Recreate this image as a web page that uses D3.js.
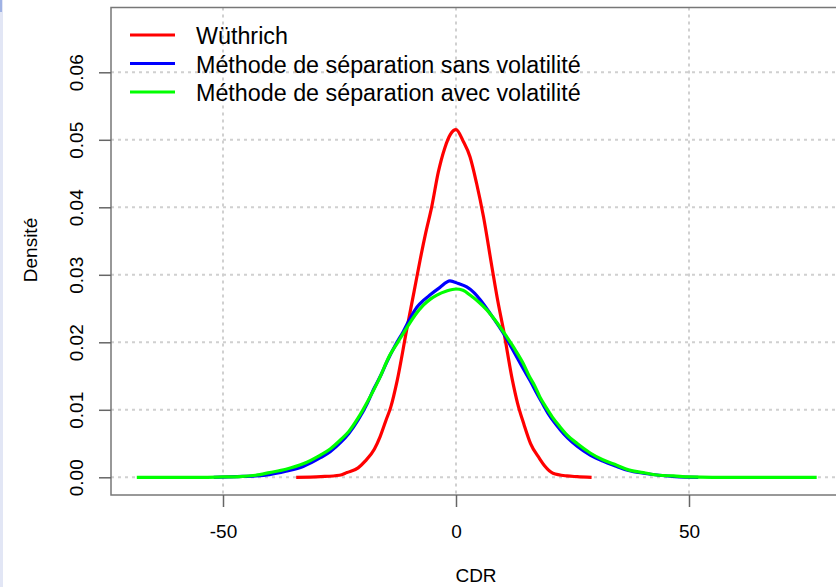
<!DOCTYPE html>
<html>
<head>
<meta charset="utf-8">
<script src="https://cdn.jsdelivr.net/npm/d3@7/dist/d3.min.js"></script>
<style>
  body { margin: 0; background: #fff; }
  svg { display: block; font-family: "Liberation Sans", Arial, sans-serif; }
</style>
</head>
<body>
<svg id="chart" width="836" height="587"></svg>
<script>
// --- data (CDR, density) ---
const wuthrichX = [-34.3, -29, -25, -23.4, -21, -19.5, -17.5, -16.3, -15, -14, -12.6, -10.6, -9, -7.7, -6.5, -5.2, -3.8, -2.4, -1.2, 0, 1.6, 3, 4.4, 5.9, 7.7, 9, 10.2, 12.1, 13.2, 14.6, 16, 17.9, 19, 20.8, 23.8, 26, 29.1]
const wuthrichY = [0, 0.0001, 0.0003, 0.0007, 0.0014, 0.0024, 0.0042, 0.006, 0.0085, 0.0104, 0.0144, 0.0218, 0.0275, 0.0322, 0.0362, 0.0401, 0.0452, 0.0488, 0.0508, 0.0515, 0.0497, 0.0475, 0.0436, 0.0386, 0.0312, 0.026, 0.0218, 0.0144, 0.011, 0.0078, 0.005, 0.0028, 0.0017, 0.0006, 0.0002, 0.0001, 0]

const sansVolX = [-52, -47, -43, -40, -36.5, -32.8, -29.1, -27, -24.7, -23, -21, -19, -17.7, -16, -14.9, -13, -11.3, -9.8, -8.4, -7, -5.6, -3.5, -1.3, 0.5, 2.3, 3.8, 5.2, 7.5, 10.2, 12.5, 14.5, 16, 17.3, 18.5, 20, 22.3, 24, 26, 28.8, 31.5, 34.5, 37, 40.2, 43.6, 47, 52]
const sansVolY = [0, 0.0001, 0.0002, 0.0004, 0.0009, 0.0016, 0.0029, 0.0038, 0.0052, 0.0065, 0.0085, 0.011, 0.013, 0.0153, 0.017, 0.0196, 0.0216, 0.0236, 0.0252, 0.0262, 0.027, 0.0281, 0.0291, 0.0287, 0.0282, 0.0274, 0.0263, 0.0241, 0.0213, 0.0185, 0.016, 0.0142, 0.0125, 0.011, 0.0092, 0.0071, 0.0058, 0.0046, 0.0033, 0.0024, 0.0016, 0.001, 0.0006, 0.0003, 0.0001, 0]

const avecVolX = [-68.5, -55, -50, -46.4, -43, -40, -36.5, -32.8, -29.1, -27, -24.7, -23, -21, -19, -16.6, -14.2, -12.5, -10.6, -8.8, -7, -5.5, -4.1, -2, 0, 1.5, 3, 4.8, 6.6, 8.8, 10.9, 12.7, 14.4, 15.7, 17, 18, 19.3, 20.6, 22.3, 23.8, 26, 28.8, 31.5, 34.5, 37, 40.2, 43.6, 46.7, 50, 55, 77.4]
const avecVolY = [0, 0, 0.00005, 0.0001, 0.0003, 0.0007, 0.0012, 0.002, 0.0033, 0.0042, 0.0056, 0.0068, 0.0088, 0.0112, 0.0144, 0.0181, 0.02, 0.0221, 0.024, 0.0255, 0.0264, 0.027, 0.0276, 0.0279, 0.0277, 0.027, 0.026, 0.0248, 0.0229, 0.0208, 0.0189, 0.0169, 0.015, 0.0134, 0.0119, 0.0104, 0.009, 0.0075, 0.0063, 0.005, 0.0036, 0.0026, 0.0018, 0.0011, 0.0007, 0.0003, 0.0002, 0.00005, 0, 0]

const legendLabels = ["Wüthrich", "Méthode de séparation sans volatilité", "Méthode de séparation avec volatilité"]
const seriesColors = ["#ff0000", "#0000ff", "#00ff00"]
const xTicks = [-50, 0, 50]
const yTicks = [0, 0.01, 0.02, 0.03, 0.04, 0.05, 0.06]

const series = [
  {name: legendLabels[0], xs: wuthrichX, ys: wuthrichY, color: seriesColors[0]},
  {name: legendLabels[1], xs: sansVolX, ys: sansVolY, color: seriesColors[1]},
  {name: legendLabels[2], xs: avecVolX, ys: avecVolY, color: seriesColors[2]}
]

const svg = d3.select("#chart")
// plot box (runs off the right edge, like the screenshot)
const box = {left: 111, top: 7.5, right: 841, bottom: 495}

const x = d3.scaleLinear().domain([-50, 50]).range([223, 689])
const y = d3.scaleLinear().domain([0, 0.06]).range([477.3, 72.3])

// thin window edge on the left
svg.append("rect").attr("x", 0).attr("y", 0).attr("width", 3).attr("height", 587).attr("fill", "#e2e6f5")
svg.append("rect").attr("x", 0).attr("y", 0).attr("width", 2).attr("height", 12).attr("fill", "#9fb2e4")

// dotted grid
const grid = svg.append("g").attr("stroke", "#d0d0d0").attr("stroke-width", 2).attr("stroke-dasharray", "3,4")
grid.selectAll("line.v").data(xTicks).join("line")
  .attr("x1", d => x(d)).attr("x2", d => x(d)).attr("y1", box.top).attr("y2", box.bottom)
grid.selectAll("line.h").data(yTicks).join("line")
  .attr("x1", box.left).attr("x2", box.right).attr("y1", d => y(d)).attr("y2", d => y(d))

// curves
const line = d3.line().x(d => x(d[0])).y(d => y(d[1])).curve(d3.curveMonotoneX)
svg.append("g").selectAll("path").data(series).join("path")
  .attr("d", s => line(d3.zip(s.xs, s.ys)))
  .attr("fill", "none").attr("stroke", s => s.color).attr("stroke-width", 3.2)
  .attr("stroke-linejoin", "round").attr("stroke-linecap", "butt")

// box
svg.append("rect").attr("x", box.left).attr("y", box.top)
  .attr("width", box.right - box.left).attr("height", box.bottom - box.top)
  .attr("fill", "none").attr("stroke", "#777").attr("stroke-width", 1.5)

// axes
const xAxis = svg.append("g").attr("transform", `translate(0,${box.bottom})`)
  .call(d3.axisBottom(x).tickValues(xTicks).tickSize(12).tickSizeOuter(0).tickFormat(d3.format("d")))
xAxis.select(".domain").remove()
xAxis.selectAll("line").attr("stroke", "#666").attr("stroke-width", 1.5)
xAxis.selectAll("text").attr("y", 43).attr("dy", 0).attr("font-size", 19).attr("fill", "#000")
  .text(d => d < 0 ? "-" + Math.abs(d) : d)

const yAxis = svg.append("g").attr("transform", `translate(${box.left},0)`)
  .call(d3.axisLeft(y).tickValues(yTicks).tickSize(12).tickSizeOuter(0).tickFormat(d3.format(".2f")))
yAxis.select(".domain").remove()
yAxis.selectAll("line").attr("stroke", "#666").attr("stroke-width", 1.5)
yAxis.selectAll("text").attr("transform", "rotate(-90)").attr("x", 0).attr("y", -28).attr("dy", 0)
  .attr("text-anchor", "middle").attr("font-size", 19).attr("fill", "#000")

// axis titles
svg.append("text").attr("x", 476).attr("y", 582).attr("text-anchor", "middle").attr("font-size", 19).text("CDR")
svg.append("text").attr("transform", "translate(37,250) rotate(-90)").attr("text-anchor", "middle")
  .attr("font-size", 19).text("Densité")

// legend (no frame)
const leg = svg.append("g").selectAll("g").data(series).join("g")
  .attr("transform", (d, i) => `translate(0,${35 + i * 28.5})`)
leg.append("line").attr("x1", 130).attr("x2", 175).attr("stroke", d => d.color).attr("stroke-width", 3.2)
leg.append("text").attr("x", 196).attr("y", 9).attr("font-size", 23.3).text(d => d.name)
</script>
</body>
</html>
